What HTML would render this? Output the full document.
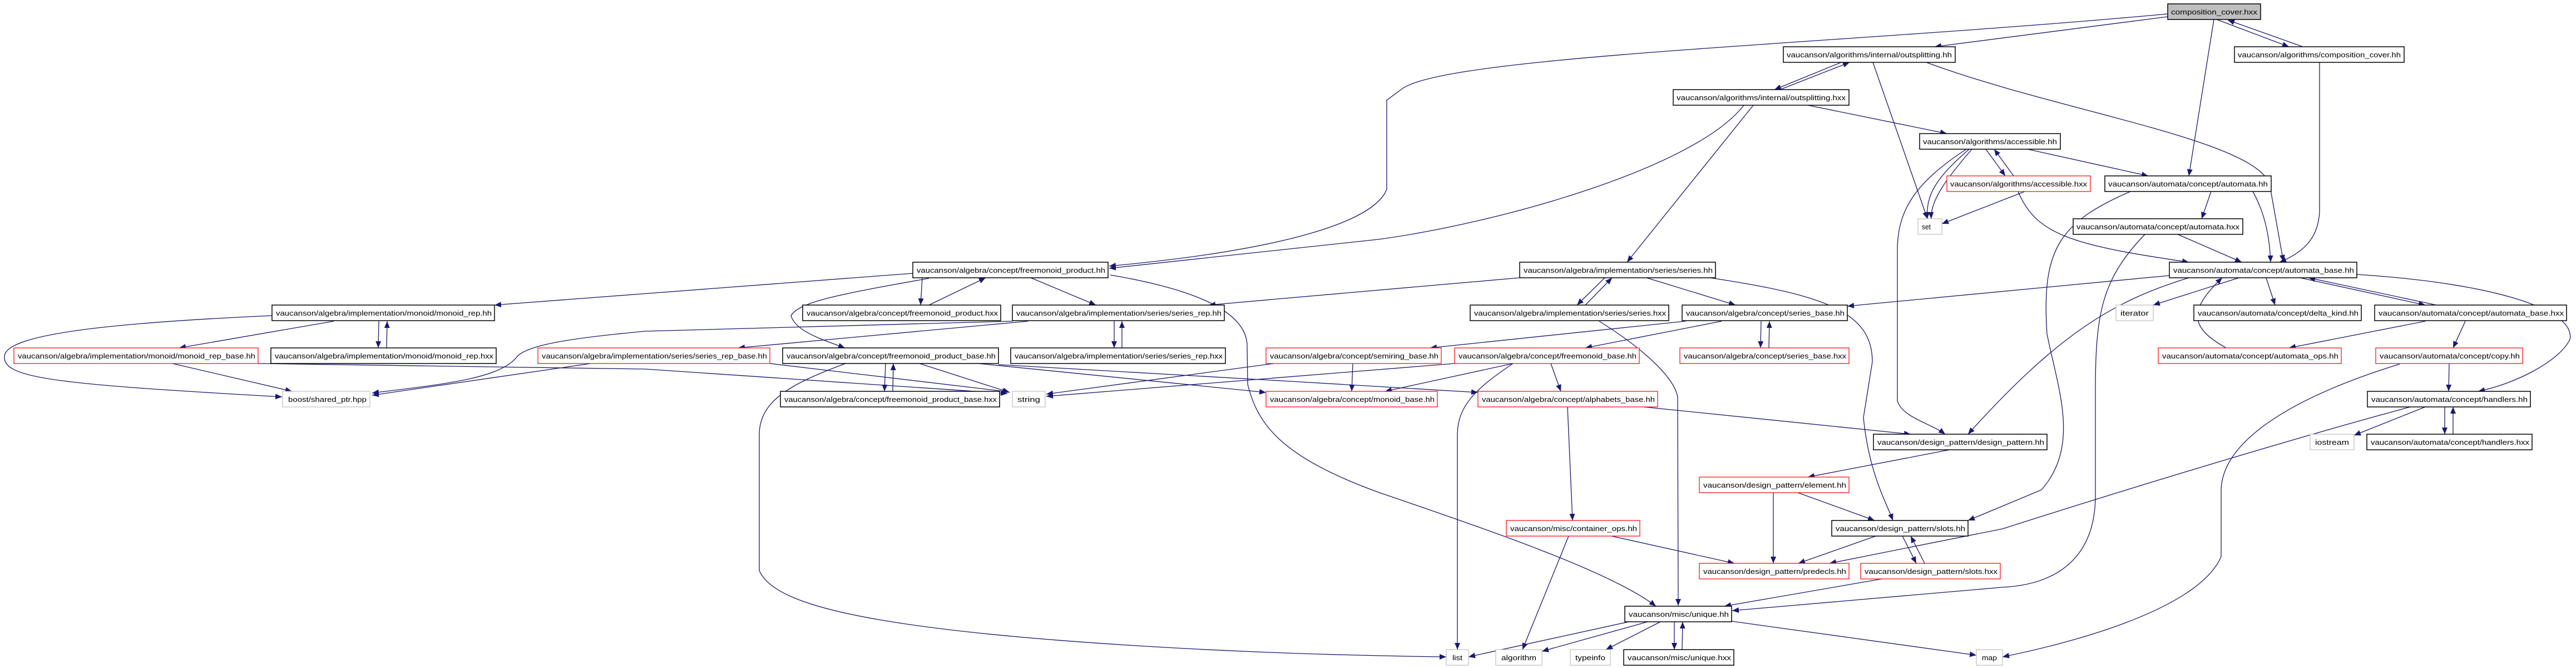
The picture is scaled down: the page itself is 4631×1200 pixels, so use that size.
<!DOCTYPE html>
<html><head><meta charset="utf-8"><style>
html,body{margin:0;padding:0;background:#fff;}
svg{display:block;}
text{font-family:"Liberation Sans",sans-serif;font-size:13px;fill:#000;}
.b{fill:#fff;stroke:#000;stroke-width:1.5}
.r{fill:#fff;stroke:#f00;stroke-width:1.2}
.g{fill:#fff;stroke:#bfbfbf;stroke-width:1.2}
.e path{fill:none;stroke:#191970;stroke-width:1.3}
</style></head><body>
<svg width="4631" height="1200" viewBox="0 0 4631 1200" xmlns="http://www.w3.org/2000/svg">
<defs><marker id="a" markerUnits="userSpaceOnUse" markerWidth="14" markerHeight="12" refX="12" refY="5" orient="auto"><path d="M0,0 L12,5 L0,10 z" fill="#191970"/></marker></defs>
<g class="e" marker-end="url(#a)">
<path d="M3897,30 L3478,84"/>
<path d="M3897,25 C3300,80 2600,100 2520,160 L2493,180 L2493,340 C2470,400 2300,450 1994,478"/>
<path d="M3980,35 L3935,316"/>
<path d="M3985,35 L4115,84"/>
<path d="M4140,84 L4005,36"/>
<path d="M4170,112 L4170,380 C4168,420 4150,450 4098,471"/>
<path d="M3310,112 L3190,161"/>
<path d="M3200,161 L3325,112"/>
<path d="M3367,112 L3465,393"/>
<path d="M3463,112 C3700,200 4050,250 4080,330 L4105,470"/>
<path d="M3135,189 C3050,300 2700,400 2478,430 L1994,482"/>
<path d="M3152,189 L2925,471"/>
<path d="M3250,189 L3500,240"/>
<path d="M3540,268 C3480,320 3462,350 3465,393"/>
<path d="M3545,268 C3500,320 3470,360 3472,393"/>
<path d="M3570,268 L3605,316"/>
<path d="M3620,316 L3585,268"/>
<path d="M3645,268 L3862,316"/>
<path d="M3535,268 C3440,330 3411,380 3411,450 L3411,720 C3420,750 3470,760 3497,780"/>
<path d="M3640,344 L3491,402"/>
<path d="M3628,344 C3660,420 3720,440 3935,471"/>
<path d="M3975,344 L3958,393"/>
<path d="M4050,344 C4070,380 4080,420 4082,471"/>
<path d="M3830,344 C3700,400 3670,450 3680,600 C3700,700 3740,800 3670,880 L3538,935"/>
<path d="M3915,421 L4030,471"/>
<path d="M3856,421 C3780,500 3767,560 3767,700 L3767,890 C3767,1000 3700,1050 3600,1055 L3114,1097"/>
<path d="M3900,495 L3321,550"/>
<path d="M3935,499 C3800,540 3700,600 3538,780"/>
<path d="M4025,499 L3871,548"/>
<path d="M4074,499 L4090,548"/>
<path d="M4135,499 L4360,548"/>
<path d="M4380,548 L4150,499"/>
<path d="M4237,493 C4500,510 4631,560 4620,610 C4600,650 4520,690 4455,703"/>
<path d="M4002,625 C3940,590 3930,560 3995,499"/>
<path d="M4360,577 L4115,625"/>
<path d="M4432,577 L4410,625"/>
<path d="M4403,653 L4402,703"/>
<path d="M4314,654 C4100,720 3995,800 3993,880 L3993,1000 C3950,1100 3700,1160 3600,1180"/>
<path d="M4360,731 L4232,782"/>
<path d="M4395,731 L4395,780"/>
<path d="M4410,780 L4410,731"/>
<path d="M4333,731 C4150,780 3850,870 3600,950 L3289,1012"/>
<path d="M2732,499 L2320,535 L2173,548"/>
<path d="M2885,499 L2835,548"/>
<path d="M2850,548 L2898,499"/>
<path d="M2960,499 L3120,548"/>
<path d="M3074,499 C3280,530 3366,560 3366,650 L3350,750 C3360,850 3390,900 3403,935"/>
<path d="M2875,577 C2960,630 3010,680 3016,713 L3017,1088"/>
<path d="M3030,577 L2571,625"/>
<path d="M3095,577 L2850,625"/>
<path d="M3166,577 L3165,625"/>
<path d="M3180,625 L3181,577"/>
<path d="M1848,577 L1327,625"/>
<path d="M1820,577 L1160,595 C1020,608 950,620 930,640 C900,680 800,690 669,706"/>
<path d="M2003,577 L2003,625"/>
<path d="M2017,625 L2017,577"/>
<path d="M1641,491 L889,548"/>
<path d="M1658,499 L1655,548"/>
<path d="M1670,548 L1772,499"/>
<path d="M1853,499 L1970,548"/>
<path d="M1670,500 C1500,530 1437,543 1422,567 C1430,595 1478,610 1519,625"/>
<path d="M1996,494 C2150,520 2240,560 2242,620 L2243,690 C2260,760 2300,820 2480,885 C2700,960 2900,1030 2977,1089"/>
<path d="M489,567 C200,580 10,600 8,640 C5,680 100,690 507,713"/>
<path d="M600,577 L322,625"/>
<path d="M681,577 L680,625"/>
<path d="M695,625 L696,577"/>
<path d="M310,653 L525,703"/>
<path d="M464,653 L1160,663 L1811,707"/>
<path d="M1062,653 L669,710"/>
<path d="M1384,653 L1814,704"/>
<path d="M1653,653 L1815,705"/>
<path d="M1592,653 L1590,703"/>
<path d="M1605,703 L1606,653"/>
<path d="M1520,653 C1420,690 1366,720 1365,780 L1365,1025 C1380,1060 1440,1090 1591,1115 C1800,1150 2200,1175 2600,1180"/>
<path d="M1759,653 L2276,705"/>
<path d="M1795,655 L2320,685 L2657,705"/>
<path d="M2290,653 L1881,708"/>
<path d="M2615,653 L1881,712"/>
<path d="M2432,653 L2430,703"/>
<path d="M2720,653 L2490,703"/>
<path d="M2788,653 L2806,703"/>
<path d="M2720,653 C2650,700 2621,730 2620,780 L2620,1167"/>
<path d="M2955,731 L3435,780"/>
<path d="M2818,731 L2827,935"/>
<path d="M3505,808 L3250,857"/>
<path d="M3188,885 L3188,1012"/>
<path d="M3232,885 L3370,935"/>
<path d="M2897,963 L3118,1012"/>
<path d="M2820,963 L2737,1167"/>
<path d="M3372,963 L3233,1012"/>
<path d="M3420,963 L3445,1012"/>
<path d="M3460,1012 L3435,963"/>
<path d="M3383,1040 L3100,1089"/>
<path d="M2928,1117 L2640,1180"/>
<path d="M2962,1117 L2772,1170"/>
<path d="M2985,1117 L2887,1167"/>
<path d="M3010,1117 L3010,1167"/>
<path d="M3024,1167 L3025,1117"/>
<path d="M3113,1116 L3553,1177"/>
</g>
<g>
<rect x="3897" y="7" width="167" height="28" fill="#bfbfbf" stroke="#000" stroke-width="1.5"/><text x="3903" y="26" textLength="155" lengthAdjust="spacingAndGlyphs">composition_cover.hxx</text>
<rect class="b" x="3206" y="84" width="309" height="28"/><text x="3212" y="103" textLength="297" lengthAdjust="spacingAndGlyphs">vaucanson/algorithms/internal/outsplitting.hh</text>
<rect class="b" x="4017" y="84" width="305" height="28"/><text x="4023" y="103" textLength="293" lengthAdjust="spacingAndGlyphs">vaucanson/algorithms/composition_cover.hh</text>
<rect class="b" x="3008" y="161" width="316" height="28"/><text x="3014" y="180" textLength="304" lengthAdjust="spacingAndGlyphs">vaucanson/algorithms/internal/outsplitting.hxx</text>
<rect class="b" x="3451" y="240" width="253" height="28"/><text x="3457" y="259" textLength="241" lengthAdjust="spacingAndGlyphs">vaucanson/algorithms/accessible.hh</text>
<rect class="r" x="3500" y="316" width="258" height="28"/><text x="3506" y="335" textLength="246" lengthAdjust="spacingAndGlyphs">vaucanson/algorithms/accessible.hxx</text>
<rect class="b" x="3784" y="316" width="299" height="28"/><text x="3790" y="335" textLength="287" lengthAdjust="spacingAndGlyphs">vaucanson/automata/concept/automata.hh</text>
<rect class="g" x="3448" y="393" width="43" height="28"/><text x="3455" y="412" textLength="16" lengthAdjust="spacingAndGlyphs">set</text>
<rect class="b" x="3727" y="393" width="305" height="28"/><text x="3733" y="412" textLength="293" lengthAdjust="spacingAndGlyphs">vaucanson/automata/concept/automata.hxx</text>
<rect class="b" x="1641" y="471" width="351" height="28"/><text x="1648" y="490" textLength="339" lengthAdjust="spacingAndGlyphs">vaucanson/algebra/concept/freemonoid_product.hh</text>
<rect class="b" x="2732" y="471" width="352" height="28"/><text x="2739" y="490" textLength="340" lengthAdjust="spacingAndGlyphs">vaucanson/algebra/implementation/series/series.hh</text>
<rect class="b" x="3900" y="471" width="337" height="28"/><text x="3907" y="490" textLength="325" lengthAdjust="spacingAndGlyphs">vaucanson/automata/concept/automata_base.hh</text>
<rect class="b" x="489" y="548" width="400" height="28"/><text x="496" y="567" textLength="388" lengthAdjust="spacingAndGlyphs">vaucanson/algebra/implementation/monoid/monoid_rep.hh</text>
<rect class="b" x="1443" y="548" width="356" height="28"/><text x="1450" y="567" textLength="344" lengthAdjust="spacingAndGlyphs">vaucanson/algebra/concept/freemonoid_product.hxx</text>
<rect class="b" x="1820" y="548" width="381" height="28"/><text x="1827" y="567" textLength="369" lengthAdjust="spacingAndGlyphs">vaucanson/algebra/implementation/series/series_rep.hh</text>
<rect class="b" x="2643" y="548" width="357" height="28"/><text x="2650" y="567" textLength="345" lengthAdjust="spacingAndGlyphs">vaucanson/algebra/implementation/series/series.hxx</text>
<rect class="b" x="3024" y="548" width="297" height="28"/><text x="3031" y="567" textLength="285" lengthAdjust="spacingAndGlyphs">vaucanson/algebra/concept/series_base.hh</text>
<rect class="g" x="3804" y="548" width="67" height="28"/><text x="3812" y="567" textLength="51" lengthAdjust="spacingAndGlyphs">iterator</text>
<rect class="b" x="3944" y="548" width="301" height="28"/><text x="3951" y="567" textLength="289" lengthAdjust="spacingAndGlyphs">vaucanson/automata/concept/delta_kind.hh</text>
<rect class="b" x="4269" y="548" width="345" height="28"/><text x="4276" y="567" textLength="333" lengthAdjust="spacingAndGlyphs">vaucanson/automata/concept/automata_base.hxx</text>
<rect class="r" x="25" y="625" width="439" height="28"/><text x="32" y="644" textLength="427" lengthAdjust="spacingAndGlyphs">vaucanson/algebra/implementation/monoid/monoid_rep_base.hh</text>
<rect class="b" x="487" y="625" width="405" height="28"/><text x="494" y="644" textLength="393" lengthAdjust="spacingAndGlyphs">vaucanson/algebra/implementation/monoid/monoid_rep.hxx</text>
<rect class="r" x="967" y="625" width="417" height="28"/><text x="974" y="644" textLength="405" lengthAdjust="spacingAndGlyphs">vaucanson/algebra/implementation/series/series_rep_base.hh</text>
<rect class="b" x="1407" y="625" width="388" height="28"/><text x="1414" y="644" textLength="376" lengthAdjust="spacingAndGlyphs">vaucanson/algebra/concept/freemonoid_product_base.hh</text>
<rect class="b" x="1817" y="625" width="386" height="28"/><text x="1824" y="644" textLength="374" lengthAdjust="spacingAndGlyphs">vaucanson/algebra/implementation/series/series_rep.hxx</text>
<rect class="r" x="2276" y="625" width="315" height="28"/><text x="2283" y="644" textLength="303" lengthAdjust="spacingAndGlyphs">vaucanson/algebra/concept/semiring_base.hh</text>
<rect class="r" x="2615" y="625" width="332" height="28"/><text x="2622" y="644" textLength="320" lengthAdjust="spacingAndGlyphs">vaucanson/algebra/concept/freemonoid_base.hh</text>
<rect class="r" x="3020" y="625" width="304" height="28"/><text x="3027" y="644" textLength="292" lengthAdjust="spacingAndGlyphs">vaucanson/algebra/concept/series_base.hxx</text>
<rect class="r" x="3880" y="625" width="329" height="28"/><text x="3887" y="644" textLength="317" lengthAdjust="spacingAndGlyphs">vaucanson/automata/concept/automata_ops.hh</text>
<rect class="r" x="4271" y="625" width="264" height="28"/><text x="4278" y="644" textLength="252" lengthAdjust="spacingAndGlyphs">vaucanson/automata/concept/copy.hh</text>
<rect class="g" x="508" y="703" width="157" height="28"/><text x="518" y="722" textLength="141" lengthAdjust="spacingAndGlyphs">boost/shared_ptr.hpp</text>
<rect class="b" x="1403" y="703" width="394" height="28"/><text x="1410" y="722" textLength="382" lengthAdjust="spacingAndGlyphs">vaucanson/algebra/concept/freemonoid_product_base.hxx</text>
<rect class="g" x="1820" y="703" width="59" height="28"/><text x="1829" y="722" textLength="41" lengthAdjust="spacingAndGlyphs">string</text>
<rect class="r" x="2276" y="703" width="308" height="28"/><text x="2283" y="722" textLength="296" lengthAdjust="spacingAndGlyphs">vaucanson/algebra/concept/monoid_base.hh</text>
<rect class="r" x="2657" y="703" width="323" height="28"/><text x="2664" y="722" textLength="311" lengthAdjust="spacingAndGlyphs">vaucanson/algebra/concept/alphabets_base.hh</text>
<rect class="b" x="4256" y="703" width="293" height="28"/><text x="4263" y="722" textLength="281" lengthAdjust="spacingAndGlyphs">vaucanson/automata/concept/handlers.hh</text>
<rect class="b" x="3368" y="780" width="312" height="28"/><text x="3375" y="799" textLength="300" lengthAdjust="spacingAndGlyphs">vaucanson/design_pattern/design_pattern.hh</text>
<rect class="g" x="4153" y="780" width="79" height="28"/><text x="4162" y="799" textLength="61" lengthAdjust="spacingAndGlyphs">iostream</text>
<rect class="b" x="4255" y="780" width="297" height="28"/><text x="4262" y="799" textLength="285" lengthAdjust="spacingAndGlyphs">vaucanson/automata/concept/handlers.hxx</text>
<rect class="r" x="3055" y="857" width="269" height="28"/><text x="3062" y="876" textLength="257" lengthAdjust="spacingAndGlyphs">vaucanson/design_pattern/element.hh</text>
<rect class="r" x="2708" y="935" width="240" height="28"/><text x="2715" y="954" textLength="228" lengthAdjust="spacingAndGlyphs">vaucanson/misc/container_ops.hh</text>
<rect class="b" x="3293" y="935" width="245" height="28"/><text x="3300" y="954" textLength="233" lengthAdjust="spacingAndGlyphs">vaucanson/design_pattern/slots.hh</text>
<rect class="r" x="3055" y="1012" width="269" height="28"/><text x="3062" y="1031" textLength="257" lengthAdjust="spacingAndGlyphs">vaucanson/design_pattern/predecls.hh</text>
<rect class="r" x="3345" y="1012" width="251" height="28"/><text x="3352" y="1031" textLength="239" lengthAdjust="spacingAndGlyphs">vaucanson/design_pattern/slots.hxx</text>
<rect class="b" x="2921" y="1089" width="192" height="28"/><text x="2928" y="1108" textLength="180" lengthAdjust="spacingAndGlyphs">vaucanson/misc/unique.hh</text>
<rect class="g" x="2600" y="1167" width="40" height="28"/><text x="2611" y="1186" textLength="18" lengthAdjust="spacingAndGlyphs">list</text>
<rect class="g" x="2689" y="1167" width="83" height="28"/><text x="2699" y="1186" textLength="63" lengthAdjust="spacingAndGlyphs">algorithm</text>
<rect class="g" x="2823" y="1167" width="72" height="28"/><text x="2832" y="1186" textLength="54" lengthAdjust="spacingAndGlyphs">typeinfo</text>
<rect class="b" x="2919" y="1167" width="198" height="28"/><text x="2926" y="1186" textLength="186" lengthAdjust="spacingAndGlyphs">vaucanson/misc/unique.hxx</text>
<rect class="g" x="3553" y="1167" width="47" height="28"/><text x="3563" y="1186" textLength="27" lengthAdjust="spacingAndGlyphs">map</text>
</g>
</svg>
</body></html>
